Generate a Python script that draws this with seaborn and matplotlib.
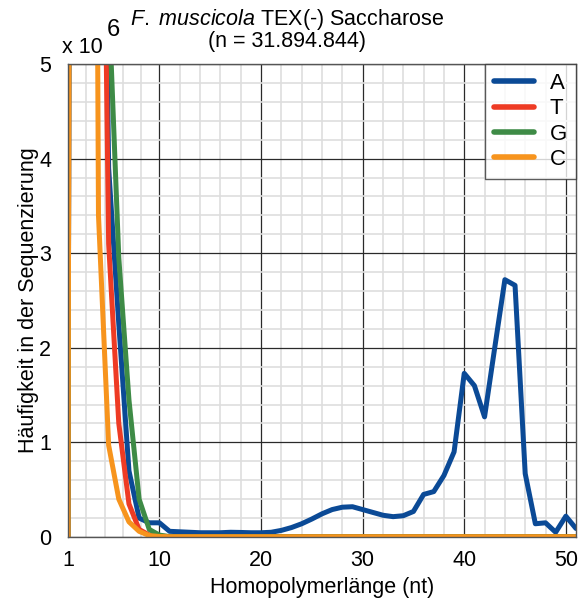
import numpy as np
import pandas as pd
import matplotlib
matplotlib.use("Agg")
import matplotlib.pyplot as plt
import seaborn as sns
from matplotlib.ticker import FixedLocator

# Homopolymerlänge 1..51, Häufigkeit in Mio.
laengen = list(range(1, 52))

a_werte = [0, 60, 25, 12, 3.9, 2.25, 0.7, 0.2, 0.15, 0.15,
           0.06, 0.055, 0.05, 0.045, 0.045, 0.045, 0.05, 0.048, 0.045, 0.045,
           0.05, 0.07, 0.1, 0.14, 0.19, 0.245, 0.29, 0.315, 0.32, 0.29,
           0.26, 0.23, 0.215, 0.225, 0.27, 0.45, 0.48, 0.65, 0.9, 1.73,
           1.6, 1.27, 2.0, 2.72, 2.66, 0.67, 0.14, 0.15, 0.05, 0.22, 0.09]
t_werte = [0, 60, 25, 11.5, 3.1, 1.2, 0.35, 0.08, 0.02, 0.01] + [0.004] * 41
g_werte = [0, 60, 25, 12, 5.7, 2.95, 1.45, 0.4, 0.08, 0.02] + [0.004] * 41
c_werte = [0, 60, 25, 3.4, 0.97, 0.4, 0.16, 0.06, 0.015, 0.005] + [0.003] * 41

basen = ["A", "T", "G", "C"]
farben = ["#0B4A96", "#EE3B24", "#3E8B46", "#F7941D"]

df = pd.concat([
    pd.DataFrame({"laenge": laengen, "wert": w, "base": b})
    for b, w in zip(basen, [a_werte, t_werte, g_werte, c_werte])
], ignore_index=True)

sns.set_style("white")
plt.rcParams['font.family'] = ['Liberation Sans', 'DejaVu Sans']
plt.rcParams['mathtext.fontset'] = 'custom'
plt.rcParams['mathtext.rm'] = 'Liberation Sans'
plt.rcParams['mathtext.it'] = 'Liberation Sans:italic'
for k in ['text.color', 'axes.labelcolor', 'xtick.color', 'ytick.color']:
    plt.rcParams[k] = 'black'

fig = plt.figure(figsize=(5.88, 6.09), dpi=100)
ax = fig.add_axes([68/588, 72/609, 508/588, 473/609])

sns.lineplot(data=df, x="laenge", y="wert", hue="base", hue_order=basen,
             palette=farben, linewidth=3.6, ax=ax)

ax.set_xlim(1, 51)
ax.set_ylim(0, 5)
ax.set_xticks([1, 10, 20, 30, 40, 50])
ax.set_yticks([0, 1, 2, 3, 4, 5])
minor_x = list(np.linspace(1, 10, 6)[1:-1]) + [x for x in range(12, 51, 2) if x % 10 != 0]
ax.xaxis.set_minor_locator(FixedLocator(minor_x))
ax.yaxis.set_minor_locator(FixedLocator([y / 5 for y in range(26) if y % 5 != 0]))
ax.grid(which="minor", color="#dedede", linewidth=1.2)
ax.grid(which="major", color="#2a2a2a", linewidth=0.9)
ax.set_axisbelow(True)
ax.tick_params(which="both", length=0, labelsize=15.5)
ax.tick_params(axis="x", pad=9)
ax.tick_params(axis="y", pad=12)
for s in ax.spines.values():
    s.set_color("#555555")
    s.set_linewidth(1)

ax.set_xlabel("Homopolymerlänge (nt)", fontsize=15.5, labelpad=5)
ax.set_ylabel("Häufigkeit in der Sequenzierung", fontsize=15.5, labelpad=0)

leg = ax.legend(loc="upper right", borderaxespad=0, fontsize=16, frameon=True,
                fancybox=False, handlelength=1.8, handletextpad=0.7,
                labelspacing=0.2, borderpad=0.4)
leg.get_frame().set_edgecolor("#333333")
leg.get_frame().set_linewidth(1)
for line in leg.get_lines():
    line.set_linewidth(4)

fig.text(287/588, 1 - 19/609, r"$\it{F.\ muscicola}$ TEX(-) Saccharose",
         ha="center", va="center", fontsize=15.5)
fig.text(287/588, 1 - 41/609, "(n = 31.894.844)", ha="center", va="center", fontsize=15.5)
fig.text(62/588, 1 - 53/609, "x 10", ha="left", va="baseline", fontsize=15.5)
fig.text(107/588, 1 - 36/609, "6", ha="left", va="baseline", fontsize=17)

fig.savefig("out.png", dpi=100)
